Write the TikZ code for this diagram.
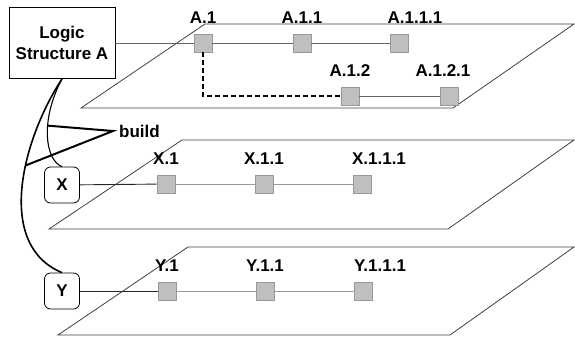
\documentclass[tikz,border=0pt]{standalone}
\usepackage{fontspec}
\setmainfont{Liberation Sans}

\begin{document}
\begin{tikzpicture}[x=1pt, y=-1pt,
                    font=\fontsize{17}{21}\selectfont\bfseries,
                    every label/.style = {font=\fontsize{17}{21}\selectfont\bfseries},
                    plane/.style = {draw=black!75,
                                    line width=0.8pt},
                    elem/.style = {shape = rectangle,
                                   draw = black!40,
                                   fill = black!25,
                                   line width = 0.6pt,
                                   inner sep = 0pt,
                                   minimum size = 18pt},
                    tag/.style = {shape = rectangle,
                                  rounded corners = 6pt,
                                  draw,
                                  line width = 0.8pt,
                                  inner sep = 0pt,
                                  minimum width = 35pt,
                                  minimum height = 36pt},
                    lsbox/.style = {shape = rectangle,
                                    draw,
                                    line width = 0.8pt,
                                    align = center,
                                    minimum width = 106pt,
                                    minimum height = 71pt},
                    lbl/.style = {label distance=7pt},
                    link/.style = {draw=black!60, line width=0.9pt},
                    thinlink/.style = {draw=black!40, line width=0.6pt}]
		\useasboundingbox (0,0) rectangle (575,338);

		% the three planes
		\draw[plane] (205,24) -- (574,24) -- (453,108) -- (81,108) -- cycle;
		\draw[plane] (182,140) -- (574,140) -- (448,229) -- (49,229) -- cycle;
		\draw[plane] (188,247) -- (574,247) -- (450,335) -- (58,335) -- cycle;

		% structure A
		\node[lsbox, fill=white] (lsa) at (62,43) {Logic\\Structure A};
		\node[elem, label={[lbl]above:A.1}] (a1) at (203,43) {};
		\node[elem, label={[lbl]above:A.1.1}] (a11) at (302,43) {};
		\node[elem, label={[lbl, xshift=16pt]above:A.1.1.1}] (a111) at (399,43) {};
		\node[elem, label={[lbl]above:A.1.2}] (a12) at (350,96) {};
		\node[elem, label={[lbl, xshift=-6pt]above:A.1.2.1}] (a121) at (449,96) {};
		\path[link] (lsa) edge (a1);
		\path[link] (a1) edge (a11);
		\path[link] (a11) edge (a111);
		\path[link] (a12) edge (a121);
		\draw[line width=2pt, dash pattern=on 5pt off 3pt] (a1) |- (a12);

		% structure X
		\node[tag, fill=white] (xt) at (62,185) {X};
		\node[elem, label={[lbl]above:X.1}] (x1) at (166,184) {};
		\node[elem, label={[lbl]above:X.1.1}] (x11) at (264,184) {};
		\node[elem, label={[lbl, xshift=17pt]above:X.1.1.1}] (x111) at (362,184) {};
		\path[link, draw=black!85] (xt) edge (x1);
		\path[thinlink] (x1) edge (x11);
		\path[thinlink] (x11) edge (x111);

		% structure Y
		\node[tag, fill=white] (yt) at (62,291) {Y};
		\node[elem, label={[lbl]above:Y.1}] (y1) at (167,291) {};
		\node[elem, label={[lbl]above:Y.1.1}] (y11) at (265,291) {};
		\node[elem, label={[lbl, xshift=17pt]above:Y.1.1.1}] (y111) at (363,291) {};
		\path[link, draw=black!85] (yt) edge (y1);
		\path[thinlink] (y1) edge (y11);
		\path[thinlink] (y11) edge (y111);

		% build
		\draw[line width=1.6pt] (lsa.south) .. controls (22,140) and (-5,245) .. (yt.north)
		      coordinate[pos=0.4] (k1);
		\draw[line width=1.1pt] (lsa.south) .. controls (40,120) and (45,160) .. (xt.north)
		      coordinate[pos=0.4] (k2);
		\node[anchor=west, inner sep=0pt, inner xsep=6pt] (bld) at (113,131) {build};
		\draw[line width=2pt] (k2) -- (bld.west) -- (k1);
	\end{tikzpicture}
\end{document}
